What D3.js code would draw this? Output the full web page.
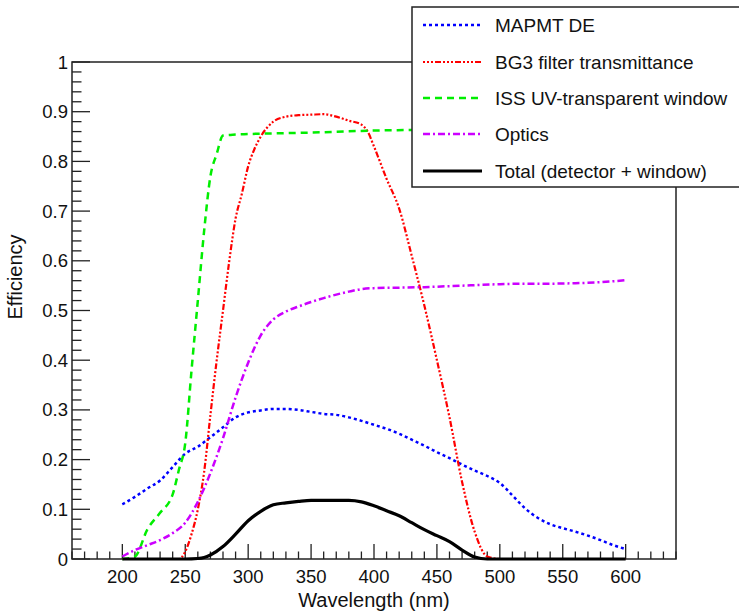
<!DOCTYPE html>
<html>
<head>
<meta charset="utf-8">
<script src="https://cdn.jsdelivr.net/npm/d3@7/dist/d3.min.js"></script>
<style>
  html, body { margin: 0; padding: 0; background: #fff; }
  svg { display: block; }
  text { font-family: "Liberation Sans", Arial, Helvetica, sans-serif; fill: #111; }
</style>
</head>
<body>
<svg id="chart" width="739" height="614"></svg>
<script>
// ---------------- data ----------------
const seriesNames = ["MAPMT DE", "BG3 filter transmittance", "ISS UV-transparent window", "Optics", "Total (detector + window)"];

const mapmtWl  = [200,210,220,230,240,250,260,270,280,290,300,310,320,330,340,350,360,370,380,390,400,410,420,430,440,450,460,470,480,490,500,510,520,530,540,550,560,570,580,590,600];
const mapmtVal = [0.110,0.125,0.142,0.158,0.185,0.212,0.226,0.245,0.265,0.285,0.295,0.299,0.302,0.302,0.300,0.296,0.292,0.290,0.285,0.278,0.270,0.262,0.252,0.240,0.228,0.215,0.203,0.190,0.178,0.167,0.153,0.128,0.102,0.083,0.070,0.062,0.055,0.047,0.038,0.028,0.020];

const bg3Wl  = [200,240,245,250,255,260,265,270,275,280,285,290,295,300,305,310,320,330,340,350,360,370,380,390,395,400,410,420,430,440,450,460,470,480,490,500,600];
const bg3Val = [0,0,0,0.015,0.05,0.10,0.175,0.29,0.40,0.50,0.60,0.685,0.735,0.79,0.825,0.85,0.88,0.89,0.893,0.894,0.895,0.89,0.882,0.874,0.86,0.83,0.765,0.705,0.61,0.51,0.40,0.285,0.155,0.055,0.005,0,0];

const issWl  = [200,210,220,230,240,245,250,255,260,265,270,275,280,290,300,350,400,450,500,550,600];
const issVal = [0,0.005,0.060,0.093,0.130,0.180,0.233,0.380,0.520,0.660,0.770,0.815,0.852,0.854,0.855,0.858,0.862,0.864,0.866,0.868,0.870];

const opticsWl  = [200,210,220,230,240,250,260,270,280,290,300,310,320,330,340,350,360,370,380,390,400,420,440,460,480,500,520,540,560,580,600];
const opticsVal = [0.005,0.018,0.028,0.038,0.052,0.073,0.115,0.173,0.243,0.325,0.395,0.450,0.482,0.498,0.508,0.517,0.525,0.532,0.538,0.543,0.545,0.546,0.547,0.549,0.551,0.553,0.554,0.554,0.555,0.557,0.561];

const totalWl  = [200,250,260,265,270,280,290,300,310,320,330,340,350,360,370,380,390,400,410,420,430,440,450,460,470,480,490,500,600];
const totalVal = [0,0,0.001,0.003,0.008,0.025,0.050,0.077,0.096,0.109,0.113,0.116,0.118,0.118,0.118,0.118,0.115,0.107,0.097,0.087,0.073,0.059,0.047,0.035,0.018,0.004,0,0,0];

const xTickLabels = [200,250,300,350,400,450,500,550,600];
const yTickLabels = [0,0.1,0.2,0.3,0.4,0.5,0.6,0.7,0.8,0.9,1];

// ---------------- layout ----------------
const svg = d3.select("#chart");
const L = 72, R = 676, T = 62, B = 559;
const x = d3.scaleLinear().domain([160, 640]).range([L, R]);
const y = d3.scaleLinear().domain([0, 1]).range([B, T]);

const styles = [
  {color: "#0000ff", dash: "3,3", width: 2.5},
  {color: "#ff0000", dash: "2,2,2,2,2,2,6,2", width: 2.2},
  {color: "#00ee00", dash: "7,5", width: 2.5},
  {color: "#cc00ff", dash: "7,3,2,3", width: 2.5},
  {color: "#000000", dash: null, width: 3.2}
];
const series = [
  [mapmtWl, mapmtVal],
  [bg3Wl, bg3Val],
  [issWl, issVal],
  [opticsWl, opticsVal],
  [totalWl, totalVal]
];

// frame
svg.append("rect").attr("x", L).attr("y", T).attr("width", R - L).attr("height", B - T)
  .attr("fill", "none").attr("stroke", "#222").attr("stroke-width", 1.5);

// x ticks (inside, upward)
const xMinor = d3.range(160, 641, 10);
svg.append("g").selectAll("line").data(xMinor).join("line")
  .attr("x1", d => x(d)).attr("x2", d => x(d))
  .attr("y1", B).attr("y2", d => B - (d % 50 === 0 ? 15 : 7.5))
  .attr("stroke", "#222").attr("stroke-width", 1.3);
svg.append("g").selectAll("text").data(xTickLabels).join("text")
  .attr("x", d => x(d)).attr("y", 583).attr("text-anchor", "middle")
  .attr("font-size", 18.5).text(d => d);

// y ticks (inside, right)
const yMinor = d3.range(0, 51).map(i => i / 50);
svg.append("g").selectAll("line").data(yMinor).join("line")
  .attr("x1", L).attr("x2", (d, i) => L + (i % 5 === 0 ? 18 : 9.5))
  .attr("y1", d => y(d)).attr("y2", d => y(d))
  .attr("stroke", "#222").attr("stroke-width", 1.3);
svg.append("g").selectAll("text").data(yTickLabels).join("text")
  .attr("x", 68).attr("y", d => y(d) + 6.5).attr("text-anchor", "end")
  .attr("font-size", 18.5).text(d => d);

// axis titles
svg.append("text").attr("x", (L + R) / 2).attr("y", 607).attr("text-anchor", "middle")
  .attr("font-size", 20).text("Wavelength (nm)");
svg.append("text").attr("transform", "translate(22,277) rotate(-90)").attr("text-anchor", "middle")
  .attr("font-size", 20).text("Efficiency");

// curves
const line = d3.line().x(d => x(d[0])).y(d => y(d[1])).curve(d3.curveMonotoneX);
series.forEach((s, i) => {
  const pts = s[0].map((w, j) => [w, s[1][j]]);
  svg.append("path").datum(pts).attr("d", line)
    .attr("fill", "none").attr("stroke", styles[i].color)
    .attr("stroke-width", styles[i].width)
    .attr("stroke-dasharray", styles[i].dash)
    .attr("stroke-linejoin", "round");
});

// legend
const lg = svg.append("g");
lg.append("rect").attr("x", 412).attr("y", 7).attr("width", 340).attr("height", 180)
  .attr("fill", "#fff").attr("stroke", "#222").attr("stroke-width", 1.5);
const rowY = [25, 62, 98, 134, 171];
seriesNames.forEach((n, i) => {
  lg.append("line").attr("x1", 423).attr("x2", 482).attr("y1", rowY[i]).attr("y2", rowY[i])
    .attr("stroke", styles[i].color).attr("stroke-width", styles[i].width)
    .attr("stroke-dasharray", styles[i].dash);
  lg.append("text").attr("x", 495).attr("y", rowY[i] + 7).attr("font-size", 19).text(n);
});
</script>
</body>
</html>
